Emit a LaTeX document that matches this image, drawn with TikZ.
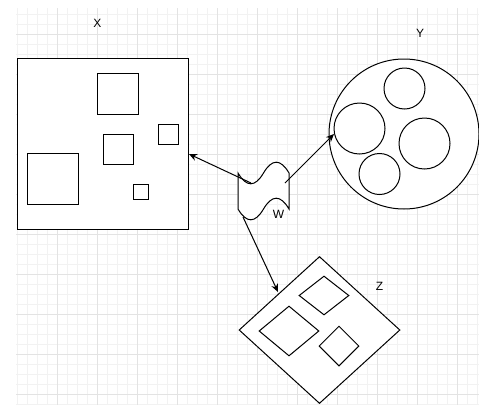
\documentclass[tikz,border=0pt]{standalone}
\usepackage{fontspec}
\setmainfont{Liberation Sans}
\usetikzlibrary{arrows.meta, shapes.geometric, positioning, calc}

\begin{document}
\begin{tikzpicture}[x=1pt, y=-1pt,
    line width=1pt,
    minorgrid/.style={line width=0.8pt, black!5},
    majorgrid/.style={line width=0.8pt, black!11},
    box/.style={draw, rectangle, fill=white, inner sep=0pt, minimum size=#1},
    ball/.style={draw, circle, fill=white, inner sep=0pt, minimum size=#1},
    rhomb/.style={draw, diamond, fill=white, inner sep=0pt},
    lbl/.style={inner sep=0pt, font=\fontsize{12}{14}\selectfont},
    arr/.style={-{Stealth[length=8pt, width=7pt]}}]

        % Page and grid
        \useasboundingbox (0,0) rectangle (479,405);
        \fill[white] (0,0) rectangle (479,405);
        \foreach \gx in {17,27,...,477} \draw[minorgrid] (\gx,8) -- (\gx,405);
        \foreach \gy in {14,24,...,404} \draw[minorgrid] (16,\gy) -- (479,\gy);
        \foreach \gx in {57,97,...,457} \draw[majorgrid] (\gx,8) -- (\gx,405);
        \foreach \gy in {34,74,...,394} \draw[majorgrid] (16,\gy) -- (479,\gy);

        % Box X with its squares
        \node[box=171] (X) at (102.5,143.5) {};
        \node[box=41] (sqA) at (117.5,93.5) {};
        \node[box=30] (sqB) at (118,149) {};
        \node[box=20] (sqC) at (168,134) {};
        \node[box=51] (sqD) at (52.5,179) {};
        \node[box=15] (sqE) at (140.5,191.5) {};
        \node[lbl] (labX) at (97.5,23.5) {X};

        % Circle Y with its circles
        \node[ball=150] (Y) at (404,134) {};
        \node[ball=41] (ciA) at (404.5,88.5) {};
        \node[ball=51] (ciB) at (359.5,128.5) {};
        \node[ball=51] (ciC) at (424.5,143.5) {};
        \node[ball=41] (ciD) at (379.5,174) {};
        \node[lbl] (labY) at (420,33) {Y};

        % Diamond Z with its diamonds
        \node[rhomb, minimum width=161, minimum height=147] (Z) at (319.5,330) {};
        \node[rhomb, minimum width=50, minimum height=39] (diA) at (324,295.5) {};
        \node[rhomb, minimum width=60, minimum height=50] (diB) at (289,331) {};
        \node[rhomb, minimum width=40, minimum height=40] (diC) at (339,346) {};
        \node[lbl] (labZ) at (379.5,286) {Z};

        % Tape W
        \draw[fill=white] (238,173)
            .. controls (246.5,187.4) and (255,187.4) .. (263.5,173)
            .. controls (272,158.6) and (280.5,158.6) .. (289,173)
            -- (289,209)
            .. controls (280.5,194.6) and (272,194.6) .. (263.5,209)
            .. controls (255,223.4) and (246.5,223.4) .. (238,209)
            -- cycle;
        \node[lbl] (labW) at (278.5,214.5) {W};

        % Connector ends
        \coordinate (wl) at (251,183);
        \coordinate (wr) at (285,183);
        \coordinate (wb) at (243,217);
        \coordinate (xr) at (189,154);
        \coordinate (yl) at (334,134);
        \coordinate (zt) at (278,292);

        % Connectors
        \draw[arr] (wl) -- (xr);
        \draw[arr] (wr) -- (yl);
        \draw[arr] (wb) -- (zt);

    \end{tikzpicture}
\end{document}
